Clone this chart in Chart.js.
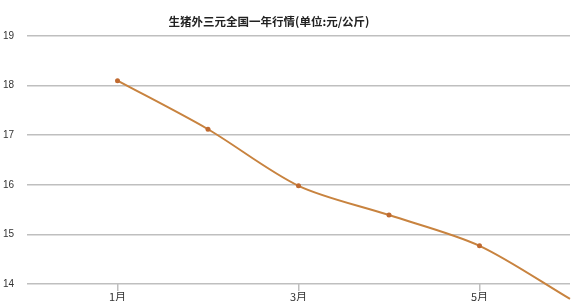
<!DOCTYPE html>
<html>
<head>
<meta charset="utf-8">
<script src="https://cdn.jsdelivr.net/npm/chart.js@4"></script>
<style>
  html, body { margin: 0; padding: 0; background: #fff; overflow: hidden; }
  canvas { display: block; }
</style>
</head>
<body>
<canvas id="c" width="581" height="306"></canvas>
<script>
const titleText = "生猪外三元全国一年行情(单位:元/公斤)";
const months = ["1月", "2月", "3月", "4月", "5月", "6月"];
const prices = [18.1, 17.12, 15.98, 15.39, 14.77, 13.7];
const labelledMonths = [1, 3, 5];
const yMin = 14;
const yMax = 19;

// title sits a bit left of the plot centre in the original
const titlePlugin = {
  id: "titleText",
  afterDraw(chart) {
    const ctx = chart.ctx;
    ctx.save();
    ctx.font = 'bold 11.5px "Noto Sans CJK SC"';
    ctx.fillStyle = "#222";
    ctx.textAlign = "center";
    ctx.textBaseline = "middle";
    ctx.fillText(titleText, 269, 22);
    ctx.restore();
  },
};

new Chart(document.getElementById("c"), {
  type: "line",
  data: {
    datasets: [
      {
        data: prices.map((p, i) => ({ x: i + 1, y: p })),
        borderColor: "#c8833f",
        borderWidth: 2,
        backgroundColor: "#c06a30",
        pointRadius: 2.5,
        pointBorderWidth: 0,
        pointBackgroundColor: "#c06a30",
        tension: 0.3,
        clip: false,
      },
    ],
  },
  options: {
    responsive: false,
    animation: false,
    layout: { padding: { top: 36, right: 11, left: 0, bottom: 0 } },
    plugins: {
      legend: { display: false },
      title: { display: false },
      tooltip: { enabled: false },
    },
    scales: {
      x: {
        type: "linear",
        min: 0,
        max: months.length,
        afterBuildTicks: (scale) => {
          scale.ticks = labelledMonths.map((v) => ({ value: v }));
        },
        afterFit: (scale) => {
          scale.height = 22;
        },
        border: { display: false },
        grid: {
          drawOnChartArea: false,
          drawTicks: true,
          tickLength: 7,
          color: "#bfbfbf",
          lineWidth: 1.5,
        },
        ticks: {
          autoSkip: false,
          maxRotation: 0,
          padding: -1,
          color: "#333",
          font: { family: '"Noto Sans CJK SC"', size: 11 },
          callback: (v) => months[v - 1],
        },
      },
      y: {
        min: yMin,
        max: yMax,
        afterFit: (scale) => {
          scale.width = 27;
        },
        border: { display: false },
        grid: {
          drawTicks: false,
          color: "#bfbfbf",
          lineWidth: 1.5,
        },
        ticks: {
          stepSize: 1,
          padding: 13,
          color: "#333",
          font: { family: '"Liberation Sans"', size: 10 },
        },
      },
    },
  },
  plugins: [titlePlugin],
});
</script>
</body>
</html>
